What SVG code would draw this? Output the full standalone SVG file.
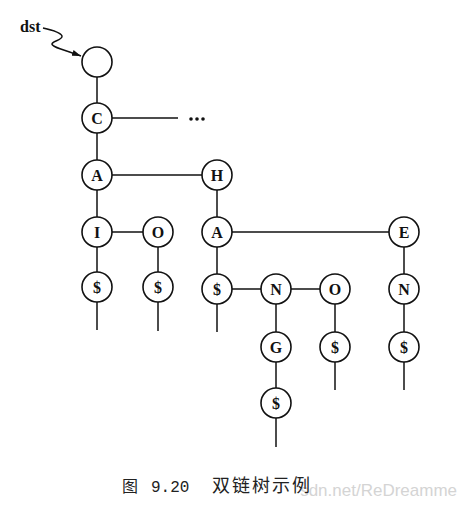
<svg xmlns="http://www.w3.org/2000/svg" width="476" height="507" viewBox="0 0 476 507">
<style>
.n circle{fill:#fff;stroke:#111;stroke-width:1.6}
.n text{font-family:"Liberation Serif","DejaVu Serif",serif;font-weight:bold;font-size:16px;text-anchor:middle;fill:#111}
.e{stroke:#111;stroke-width:1.5;fill:none}
</style>
<defs>
<marker id="ah" markerWidth="10" markerHeight="8" refX="9" refY="4" orient="auto" markerUnits="userSpaceOnUse">
<path d="M0,1 L9,4 L0,7 z" fill="#111"/>
</marker>
</defs>
<rect width="476" height="507" fill="#fff"/>
<g id="connectors">
<path class="e" d="M43,28 C52,30 61,33 62,36 C63,40 52,41 52,44 C52,47 62,49 81,56" marker-end="url(#ah)"/>
<line class="e" x1="97" y1="77" x2="97" y2="103"/>
<line class="e" x1="112" y1="118" x2="178" y2="118"/>
<line class="e" x1="97" y1="133" x2="97" y2="160"/>
<line class="e" x1="112" y1="175" x2="202" y2="175"/>
<line class="e" x1="97" y1="190" x2="97" y2="217"/>
<line class="e" x1="112" y1="232" x2="143" y2="232"/>
<line class="e" x1="97" y1="247" x2="97" y2="272"/>
<line class="e" x1="158" y1="247" x2="158" y2="272"/>
<line class="e" x1="97" y1="302" x2="97" y2="330"/>
<line class="e" x1="158" y1="302" x2="158" y2="331"/>
<line class="e" x1="217" y1="190" x2="217" y2="217"/>
<line class="e" x1="232" y1="232" x2="389" y2="232"/>
<line class="e" x1="217" y1="247" x2="217" y2="274"/>
<line class="e" x1="217" y1="304" x2="217" y2="332"/>
<line class="e" x1="232" y1="289" x2="261" y2="289"/>
<line class="e" x1="291" y1="289" x2="320" y2="289"/>
<line class="e" x1="276" y1="304" x2="276" y2="332"/>
<line class="e" x1="276" y1="362" x2="276" y2="388"/>
<line class="e" x1="276" y1="418" x2="276" y2="447"/>
<line class="e" x1="335" y1="304" x2="335" y2="332"/>
<line class="e" x1="335" y1="362" x2="335" y2="390"/>
<line class="e" x1="404" y1="247" x2="404" y2="274"/>
<line class="e" x1="404" y1="304" x2="404" y2="332"/>
<line class="e" x1="404" y1="362" x2="404" y2="390"/>
</g>
<g id="dst"><text x="20" y="32" font-family="Liberation Serif,serif" font-weight="bold" font-size="16" fill="#111">dst</text></g>
<g id="ellipsis" fill="#111"><circle cx="191" cy="119" r="1.8"/><circle cx="197" cy="119" r="1.8"/><circle cx="203" cy="119" r="1.8"/></g>
<g id="root" class="n"><circle cx="97" cy="62" r="15"/></g>
<g id="nC" class="n"><circle cx="97" cy="118" r="15"/><text x="97" y="124">C</text></g>
<g id="nA1" class="n"><circle cx="97" cy="175" r="15"/><text x="97" y="181">A</text></g>
<g id="nH" class="n"><circle cx="217" cy="175" r="15"/><text x="217" y="181">H</text></g>
<g id="nI" class="n"><circle cx="97" cy="232" r="15"/><text x="97" y="238">I</text></g>
<g id="nO1" class="n"><circle cx="158" cy="232" r="15"/><text x="158" y="238">O</text></g>
<g id="nA2" class="n"><circle cx="217" cy="232" r="15"/><text x="217" y="238">A</text></g>
<g id="nE" class="n"><circle cx="404" cy="232" r="15"/><text x="404" y="238">E</text></g>
<g id="nD1" class="n"><circle cx="97" cy="287" r="15"/><text x="97" y="293">$</text></g>
<g id="nD2" class="n"><circle cx="158" cy="287" r="15"/><text x="158" y="293">$</text></g>
<g id="nD3" class="n"><circle cx="217" cy="289" r="15"/><text x="217" y="295">$</text></g>
<g id="nN1" class="n"><circle cx="276" cy="289" r="15"/><text x="276" y="295">N</text></g>
<g id="nO2" class="n"><circle cx="335" cy="289" r="15"/><text x="335" y="295">O</text></g>
<g id="nN2" class="n"><circle cx="404" cy="289" r="15"/><text x="404" y="295">N</text></g>
<g id="nG" class="n"><circle cx="276" cy="347" r="15"/><text x="276" y="353">G</text></g>
<g id="nD4" class="n"><circle cx="335" cy="347" r="15"/><text x="335" y="353">$</text></g>
<g id="nD5" class="n"><circle cx="404" cy="347" r="15"/><text x="404" y="353">$</text></g>
<g id="nD6" class="n"><circle cx="276" cy="403" r="15"/><text x="276" y="409">$</text></g>
<g id="watermark"><text x="457" y="496" text-anchor="end" font-family="Liberation Sans,Arial,sans-serif" font-size="17" fill="#d4d4d4">sdn.net/ReDreamme</text></g>
<g id="caption" font-family="Noto Sans CJK SC,sans-serif" fill="#222">
<text x="122" y="492" font-size="16">图</text>
<text x="151" y="492" font-family="Liberation Mono,monospace" font-size="16">9.20</text>
<text x="212" y="492" font-size="18" letter-spacing="2">双链树示例</text>
</g>
</svg>
